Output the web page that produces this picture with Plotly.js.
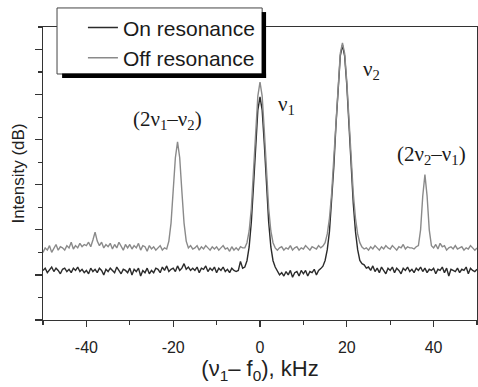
<!DOCTYPE html>
<html>
<head>
<meta charset="utf-8">
<script src="https://cdn.plot.ly/plotly-3.0.1.min.js"></script>
<style>html,body{margin:0;padding:0;background:#fff;}#chart{width:478px;height:387px;}</style>
</head>
<body>
<div id="chart"></div>
<script>
// Frequency offset (kHz)
const freq = [
-50,-49.5,-49,-48.5,-48,-47.5,-47,-46.5,-46,-45.5,
-45,-44.5,-44,-43.5,-43,-42.5,-42,-41.5,-41,-40.5,
-40,-39.5,-39,-38.5,-38,-37.5,-37,-36.5,-36,-35.5,
-35,-34.5,-34,-33.5,-33,-32.5,-32,-31.5,-31,-30.5,
-30,-29.5,-29,-28.5,-28,-27.5,-27,-26.5,-26,-25.5,
-25,-24.5,-24,-23.5,-23,-22.5,-22,-21.5,-21,-20.5,
-20,-19.5,-19,-18.5,-18,-17.5,-17,-16.5,-16,-15.5,
-15,-14.5,-14,-13.5,-13,-12.5,-12,-11.5,-11,-10.5,
-10,-9.5,-9,-8.5,-8,-7.5,-7,-6.5,-6,-5.5,
-5,-4.5,-4,-3.5,-3,-2.5,-2,-1.5,-1,-0.5,
0,0.5,1,1.5,2,2.5,3,3.5,4,4.5,
5,5.5,6,6.5,7,7.5,8,8.5,9,9.5,
10,10.5,11,11.5,12,12.5,13,13.5,14,14.5,
15,15.5,16,16.5,17,17.5,18,18.5,19,19.5,
20,20.5,21,21.5,22,22.5,23,23.5,24,24.5,
25,25.5,26,26.5,27,27.5,28,28.5,29,29.5,
30,30.5,31,31.5,32,32.5,33,33.5,34,34.5,
35,35.5,36,36.5,37,37.5,38,38.5,39,39.5,
40,40.5,41,41.5,42,42.5,43,43.5,44,44.5,
45,45.5,46,46.5,47,47.5,48,48.5,49,49.5,50
];

// On resonance (dark trace), intensity in dB (arbitrary offset)
const onRes = [
2.2,2.3,2.1,2.25,2.35,2.15,2.3,2.2,2.05,2.25,
2.3,2.15,2.25,2.1,2.3,2.2,2.35,2.15,2.25,2.1,
2.2,2.05,2.3,2.15,2.25,2.1,2.3,2.2,2.0,2.25,
2.15,2.3,2.2,2.1,2.35,2.2,2.05,2.25,2.2,2.1,
2.3,2.0,2.25,2.15,2.3,1.95,2.2,2.1,2.3,2.05,
2.2,2.1,2.3,2.25,2.1,2.35,2.2,2.4,2.15,2.25,
2.3,2.15,2.4,2.2,2.3,2.5,2.25,2.35,2.2,2.3,
2.2,2.35,2.1,2.3,2.25,2.4,2.15,2.3,2.2,2.35,
2.1,2.3,2.2,2.35,2.15,2.25,2.1,2.3,2.2,2.15,
2.2,2.6,2.3,2.35,2.63,3.24,4.34,5.95,7.79,9.31,
9.9,9.31,7.79,5.95,4.34,3.24,2.63,2.35,2.15,2.0,
2.1,1.95,2.15,2.0,2.2,1.9,2.1,2.15,1.95,2.2,
2.05,2.2,1.95,2.15,2.1,2.25,2.0,2.2,2.28,2.39,
2.64,3.12,3.92,5.15,6.78,8.64,10.43,11.72,12.2,11.72,
10.43,8.64,6.78,5.15,3.92,3.12,2.64,2.5,2.45,2.3,
2.35,2.2,2.4,2.15,2.3,2.1,2.35,2.2,2.05,2.3,
2.2,2.35,2.1,2.3,2.2,2.05,2.3,2.2,2.35,2.15,
2.25,2.1,2.3,2.2,2.35,2.15,2.3,2.1,2.25,2.2,
2.3,2.05,2.25,2.2,2.35,2.1,2.3,1.95,2.25,2.2,
2.15,2.3,2.1,2.25,2.2,2.35,2.05,2.3,2.2,2.15,2.25
];

// Off resonance (grey trace), intensity in dB (arbitrary offset)
const offRes = [
3.0,3.2,3.1,3.3,3.0,3.2,3.35,3.1,3.25,3.2,
3.1,3.3,3.2,3.45,3.15,3.3,3.2,3.4,3.25,3.35,
3.3,3.45,3.25,3.55,3.9,3.5,3.3,3.45,3.2,3.35,
3.25,3.4,3.15,3.35,3.2,3.45,3.25,3.1,3.35,3.2,
3.35,3.15,3.3,3.2,3.4,3.1,3.3,3.25,3.05,3.3,
3.15,3.25,3.1,3.2,3.3,3.1,3.2,3.15,3.5,4.3,
5.7,7.2,7.9,7.2,5.7,4.3,3.5,3.2,3.3,3.15,
3.2,3.3,3.1,3.25,3.15,3.3,3.2,3.1,3.25,3.15,
3.25,3.1,3.2,3.3,3.15,3.2,3.05,3.25,3.1,3.2,
3.1,3.25,3.2,3.2,3.43,3.95,4.96,6.51,8.37,9.93,
10.55,9.93,8.37,6.51,4.96,3.95,3.43,3.2,3.1,3.2,
3.25,3.1,3.2,3.15,3.3,3.1,3.2,3.25,3.1,3.2,
3.15,3.3,3.2,3.1,3.25,3.2,3.15,3.3,3.2,3.28,
3.43,3.82,4.51,5.6,7.1,8.86,10.57,11.83,12.3,11.83,
10.57,8.86,7.1,5.6,4.51,3.82,3.43,3.24,3.15,3.2,
3.1,3.25,3.15,3.3,3.2,3.1,3.25,3.15,3.3,3.2,
3.15,3.3,3.2,3.1,3.25,3.2,3.35,3.15,3.25,3.2,
3.2,3.15,3.25,3.3,4.0,5.5,6.45,5.5,4.0,3.3,
3.2,3.35,3.15,3.4,3.25,3.3,3.1,3.2,3.25,3.15,
3.3,3.15,3.2,3.25,3.1,3.2,3.15,3.3,3.2,3.1,3.2
];

const seriesNames = ["On resonance", "Off resonance"];
const peakLabels = ["(2ν<sub>1</sub>–ν<sub>2</sub>)", "ν<sub>1</sub>", "ν<sub>2</sub>", "(2ν<sub>2</sub>–ν<sub>1</sub>)"];
const peakLabelX = [-21.2, 6.2, 25.8, 39.4];
const peakLabelY = [8.87, 9.54, 11.1, 7.3];
const xTickVals = [-40, -20, 0, 20, 40];
const xTickText = ["-40", "-20", "0", "20", "40"];

const traces = [
  {x: freq, y: onRes, name: seriesNames[0], type: "scatter", mode: "lines",
   line: {color: "#2b2b2b", width: 1.4}, legendgroup: "a"},
  {x: freq, y: offRes, name: seriesNames[1], type: "scatter", mode: "lines",
   line: {color: "#8a8a8a", width: 1.4}, legendgroup: "b"}
];

const annotations = peakLabels.map((t, i) => ({
  x: peakLabelX[i], y: peakLabelY[i], xref: "x", yref: "y", text: t,
  showarrow: false, font: {family: "Liberation Serif, Times New Roman, serif", size: 21, color: "#1a1a1a"}
}));

const layout = {
  width: 478, height: 387,
  margin: {l: 43, r: 1, t: 27, b: 67},
  paper_bgcolor: "#fff", plot_bgcolor: "#fff",
  font: {family: "Liberation Sans, Arial, sans-serif", color: "#222"},
  showlegend: true,
  legend: {x: 0.092, y: 1.067, xanchor: "left", yanchor: "top",
    bgcolor: "rgba(0,0,0,0)", borderwidth: 0,
    font: {size: 21, color: "#1a1a1a"}, tracegroupgap: 0, traceorder: "grouped"},
  xaxis: {range: [-50, 50], tickvals: xTickVals, ticktext: xTickText,
    ticks: "outside", ticklen: 6, tickcolor: "#333", tickwidth: 1.2,
    minor: {dtick: 10, ticks: "outside", ticklen: 4, tickcolor: "#333"},
    showline: true, linecolor: "#333", linewidth: 1.2, mirror: true,
    showgrid: false, zeroline: false, ticklabelstandoff: 7,
    tickfont: {size: 16, color: "#222"},
    title: {text: "(ν<sub>1</sub>– f<sub>0</sub>), kHz", font: {size: 22, color: "#222"}, standoff: 5}},
  yaxis: {range: [0, 13], dtick: 2, tick0: 0, showticklabels: false,
    ticks: "outside", ticklen: 7, tickcolor: "#333", tickwidth: 1.2,
    minor: {dtick: 1, ticks: "outside", ticklen: 4, tickcolor: "#333"},
    showline: true, linecolor: "#333", linewidth: 1.2, mirror: true,
    showgrid: false, zeroline: false,
    title: {text: "Intensity (dB)", font: {size: 17, color: "#222"}, standoff: 5}},
  annotations: annotations,
  shapes: [
    // legend frame
    {type: "rect", xref: "paper", yref: "paper", x0: 0.0323, x1: 0.505, y0: 0.8396, y1: 1.065,
     fillcolor: "#fff", line: {color: "#444", width: 1}, layer: "above"},
    // legend shadow (right and bottom)
    {type: "rect", xref: "paper", yref: "paper", x0: 0.504, x1: 0.514, y0: 0.826, y1: 1.051,
     fillcolor: "#000", line: {width: 0}, layer: "above"},
    {type: "rect", xref: "paper", yref: "paper", x0: 0.044, x1: 0.514, y0: 0.826, y1: 0.841,
     fillcolor: "#000", line: {width: 0}, layer: "above"}
  ]
};

Plotly.newPlot("chart", traces, layout, {displayModeBar: false, staticPlot: true});
</script>
</body>
</html>
